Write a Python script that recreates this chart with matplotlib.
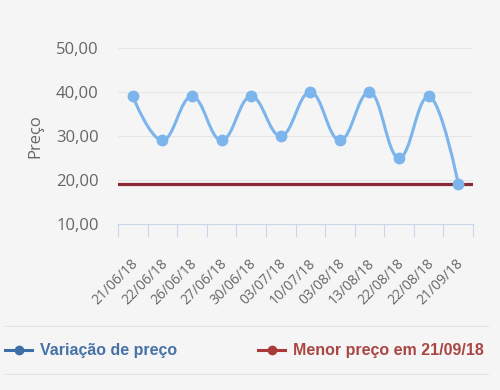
import numpy as np
import matplotlib.pyplot as plt
from matplotlib.path import Path
from matplotlib.patches import PathPatch
from matplotlib.lines import Line2D
from matplotlib.ticker import FuncFormatter

# dados
datas = ["21/06/18", "22/06/18", "26/06/18", "27/06/18", "30/06/18", "03/07/18",
         "10/07/18", "03/08/18", "13/08/18", "22/08/18", "22/08/18", "21/09/18"]
precos = [39, 29, 39, 29, 39, 30, 40, 29, 40, 25, 39, 19.2]
menor_preco = 19.2
nome_serie = "Variação de preço"
nome_menor = "Menor preço em 21/09/18"

bg = "#f5f5f5"
azul = "#7cb5ec"
vermelho = "#8b2a35"


## Curva suave no estilo "spline" (controles de Bezier)
def splinePath(xs, ys, smoothing=1.5):
    n = len(xs); denom = smoothing + 1
    left = [None]*n; right = [None]*n
    for i in range(1, n-1):
        lx, ly = xs[i-1], ys[i-1]; px, py = xs[i], ys[i]; nx, ny = xs[i+1], ys[i+1]
        lcx = (smoothing*px + lx)/denom; lcy = (smoothing*py + ly)/denom
        rcx = (smoothing*px + nx)/denom; rcy = (smoothing*py + ny)/denom
        if rcx != lcx:
            corr = ((rcy - lcy)*(rcx - px))/(rcx - lcx) + py - rcy
            lcy += corr; rcy += corr
        if lcy > max(ly, py):
            lcy = max(ly, py); rcy = 2*py - lcy
        elif lcy < min(ly, py):
            lcy = min(ly, py); rcy = 2*py - lcy
        if rcy > max(ny, py):
            rcy = max(ny, py); lcy = 2*py - rcy
        elif rcy < min(ny, py):
            rcy = min(ny, py); lcy = 2*py - rcy
        left[i] = (lcx, lcy); right[i] = (rcx, rcy)
    verts = [(xs[0], ys[0])]; codes = [Path.MOVETO]
    for i in range(1, n):
        c1 = right[i-1] if right[i-1] is not None else (xs[i-1], ys[i-1])
        c2 = left[i] if left[i] is not None else (xs[i], ys[i])
        verts += [c1, c2, (xs[i], ys[i])]
        codes += [Path.CURVE4]*3
    return Path(verts, codes)


fig = plt.figure(figsize=(5, 3.9), dpi=100, facecolor=bg)
ax = fig.add_axes([118/500, 1-224/390, 355/500, 176/390], facecolor=bg)

x = np.arange(len(datas))
ax.set_xlim(-0.5, len(datas)-0.5)
ax.set_ylim(10, 50)

for yv in [20, 30, 40, 50]:
    ax.axhline(yv, color="#e6e6e6", lw=0.8, zorder=0)

ax.axhline(menor_preco, color=vermelho, lw=2.3, zorder=2)
ax.add_patch(PathPatch(splinePath(list(x), precos), facecolor="none",
                       edgecolor=azul, lw=2.2, zorder=3))
ax.plot(x, precos, "o", color=azul, ms=7.5, zorder=4)

for s in ["top", "right", "left"]:
    ax.spines[s].set_visible(False)
ax.spines["bottom"].set_color("#ccd6eb")

ax.set_yticks([10, 20, 30, 40, 50])
ax.yaxis.set_major_formatter(FuncFormatter(lambda v, p: f"{v:.2f}".replace(".", ",")))
ax.tick_params(axis="y", length=0, pad=14, labelsize=12, labelcolor="#666666")
for t in ax.get_yticklabels():
    t.set_family("Open Sans")

# ticks entre as categorias
ax.set_xticks(np.arange(-0.5, len(datas)))
ax.set_xticklabels([""]*(len(datas)+1))
ax.tick_params(axis="x", length=9, color="#ccd6eb", width=0.8)
for i, d in enumerate(datas):
    ax.annotate(d, xy=(i, 10), xytext=(-1.5, -23), textcoords="offset points",
                ha="right", va="top", rotation=45, rotation_mode="anchor",
                fontsize=10, color="#666666", family="Open Sans", annotation_clip=False)

ax.set_ylabel("Preço", fontsize=12, color="#666666", family="Open Sans")
ax.yaxis.set_label_coords((43-118)/355, 0.5)

# legenda
def fy(py): return 1 - py/390
def fx(px): return px/500

for py in [326, 374]:
    fig.add_artist(Line2D([fx(5), fx(488)], [fy(py), fy(py)], color="#e3e3e3", lw=0.8))

fig.add_artist(Line2D([fx(5), fx(32)], [fy(350), fy(350)], color="#3d6ea6", lw=2.2))
fig.add_artist(Line2D([fx(18.5)], [fy(350)], marker="o", ms=6, color="#3d6ea6"))
fig.text(fx(40), fy(350), nome_serie, fontsize=11.5, fontweight="bold", color="#4572a7",
         family="Liberation Sans", va="center", ha="left")

fig.add_artist(Line2D([fx(258), fx(285)], [fy(350), fy(350)], color="#a83a3a", lw=2.2))
fig.add_artist(Line2D([fx(271.5)], [fy(350)], marker="o", ms=6, color="#a83a3a"))
fig.text(fx(293), fy(350), nome_menor, fontsize=11.5, fontweight="bold", color="#aa4643",
         family="Liberation Sans", va="center", ha="left")

fig.savefig("out.png", dpi=100, facecolor=bg)
